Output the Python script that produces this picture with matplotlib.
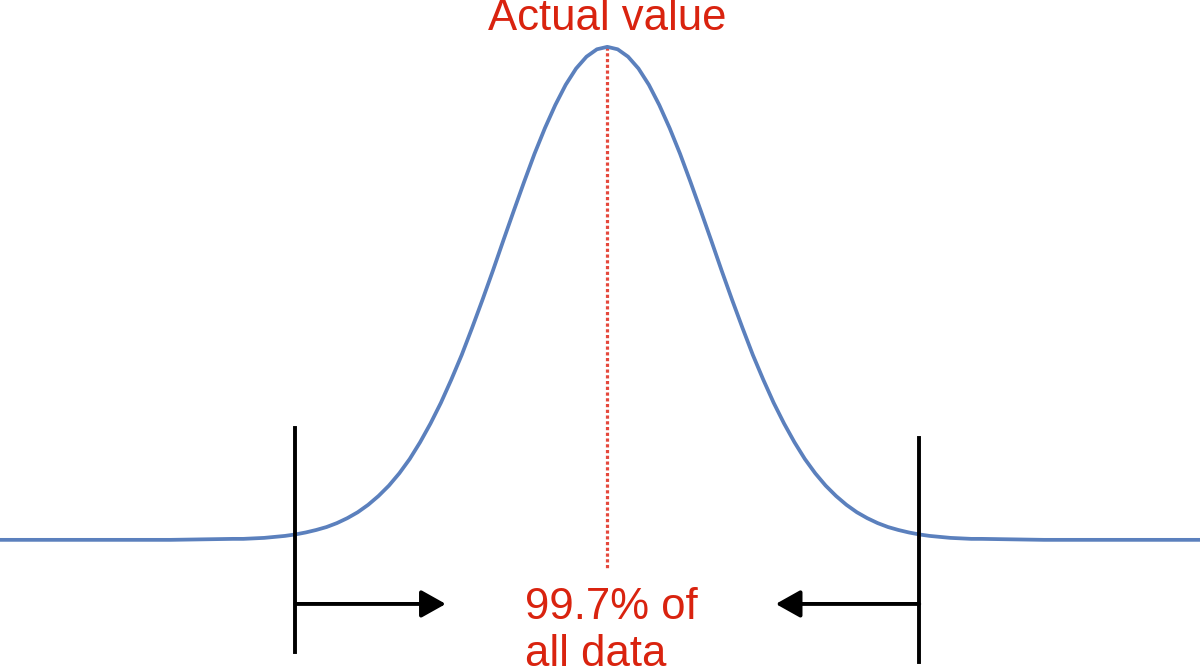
import matplotlib.pyplot as plt

# curve: x in "sigma" units from the centre, height relative to the peak
curve_x = [-5.84, -4.2, -3.6, -3.5, -3.4, -3.3, -3.2, -3.1, -3.0, -2.9, -2.8, -2.7, -2.6, -2.5,
           -2.4, -2.3, -2.2, -2.1, -2.0, -1.9, -1.8, -1.7, -1.6, -1.5, -1.4, -1.3, -1.2, -1.1,
           -1.0, -0.9, -0.8, -0.7, -0.6, -0.5, -0.4, -0.3, -0.2, -0.1, 0.0,
           0.1, 0.2, 0.3, 0.4, 0.5, 0.6, 0.7, 0.8, 0.9, 1.0, 1.1, 1.2, 1.3, 1.4, 1.5, 1.6,
           1.7, 1.8, 1.9, 2.0, 2.1, 2.2, 2.3, 2.4, 2.5, 2.6, 2.7, 2.8, 2.9, 3.0, 3.1, 3.2,
           3.3, 3.4, 3.5, 3.6, 4.2, 5.70]
curve_y = [0.0, 0.0, 0.002, 0.002, 0.003, 0.004, 0.006, 0.008, 0.011, 0.015, 0.020, 0.026,
           0.034, 0.044, 0.056, 0.071, 0.089, 0.110, 0.135, 0.164, 0.198, 0.236, 0.278, 0.325,
           0.375, 0.430, 0.487, 0.546, 0.607, 0.667, 0.726, 0.783, 0.835, 0.882, 0.923, 0.956,
           0.980, 0.995, 1.000,
           0.995, 0.980, 0.956, 0.923, 0.882, 0.835, 0.783, 0.726, 0.667, 0.607, 0.546, 0.487,
           0.430, 0.375, 0.325, 0.278, 0.236, 0.198, 0.164, 0.135, 0.110, 0.089, 0.071, 0.056,
           0.044, 0.034, 0.026, 0.020, 0.015, 0.011, 0.008, 0.006, 0.004, 0.003, 0.002, 0.002,
           0.0, 0.0]

actual_value = 0.0
limits = [-3.0, 3.0]
top_label = "Actual value"
range_lines = ["99.7% of", "all data"]

blue = "#5b80bd"
red = "#d9230f"

fig = plt.figure(figsize=(12, 6.71), dpi=100)
ax = fig.add_axes([0, 0, 1, 1])
ax.set_xlim(-5.84, 5.70)
ax.set_ylim(-0.266, 1.095)
ax.axis("off")

ax.plot(curve_x, curve_y, color=blue, lw=2.7, solid_joinstyle="round", zorder=3)

# dotted marker for the actual value
ax.plot([actual_value, actual_value], [1.0, -0.061], color="#e5483c", lw=2.3,
        linestyle=(0, (1.0, 0.8)), zorder=2)

# the two limit bars
ax.plot([limits[0], limits[0]], [0.227, -0.227], color="black", lw=2.8, zorder=4)
ax.plot([limits[1], limits[1]], [0.207, -0.247], color="black", lw=2.8, zorder=4)

arrow_style = "-|>,head_length=0.75,head_width=0.42"
ax.annotate("", xy=(-1.553, -0.130), xytext=(limits[0], -0.130),
            arrowprops=dict(arrowstyle=arrow_style, color="black", lw=2.8,
                            shrinkA=0, shrinkB=0, mutation_scale=20))
ax.annotate("", xy=(1.62, -0.130), xytext=(limits[1], -0.130),
            arrowprops=dict(arrowstyle=arrow_style, color="black", lw=2.8,
                            shrinkA=0, shrinkB=0, mutation_scale=20))

ax.text(actual_value, 1.0345, top_label, color=red, fontsize=31.5, ha="center",
        va="baseline", family="Liberation Sans")
ax.text(-0.79, -0.160, range_lines[0], color=red, fontsize=31.5, ha="left",
        va="baseline", family="Liberation Sans")
ax.text(-0.79, -0.256, range_lines[1], color=red, fontsize=31.5, ha="left",
        va="baseline", family="Liberation Sans")

fig.savefig("out.png", dpi=100)
